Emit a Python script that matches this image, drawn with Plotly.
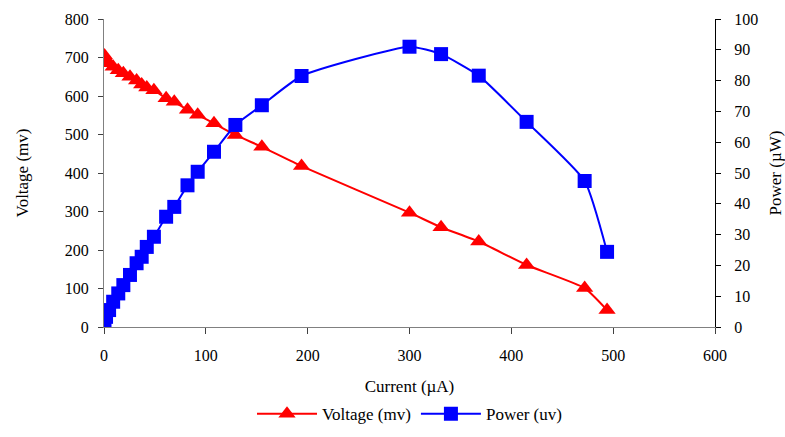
import plotly.graph_objects as go

# Data
current_ua = [0.5, 2, 5, 9, 14, 19, 25.5, 32, 37, 42, 49, 61, 69, 82, 92,
              108, 129, 155, 194, 300, 331, 368, 415, 472, 494]
voltage_mv = [705, 695, 685, 676, 667, 659, 650, 640, 630, 622, 615, 594, 585,
              564, 551, 529, 499, 468, 418, 297, 259, 222, 161, 101, 44]
power_uw = [0.5, 3.3, 5.5, 8.2, 10.9, 13.6, 16.9, 20.7, 22.8, 26, 29.3, 35.8,
            39, 46, 50.4, 56.9, 65.6, 72, 81.5, 91, 88.6, 81.6, 66.6, 47.4, 24.4]

x_ticks = [0, 100, 200, 300, 400, 500, 600]
v_ticks = [0, 100, 200, 300, 400, 500, 600, 700, 800]
p_ticks = [0, 10, 20, 30, 40, 50, 60, 70, 80, 90, 100]

FONT = "Liberation Serif"

fig = go.Figure()
fig.add_trace(go.Scatter(
    x=current_ua, y=voltage_mv, name="Voltage (mv)", mode="lines+markers",
    line=dict(color="#FF0000", width=2, shape="spline", smoothing=0.5),
    marker=dict(symbol="triangle-up", size=15, color="#FF0000"),
    yaxis="y"))
fig.add_trace(go.Scatter(
    x=current_ua, y=power_uw, name="Power (uv)", mode="lines+markers",
    line=dict(color="#0000FF", width=2, shape="spline", smoothing=0.5),
    marker=dict(symbol="square", size=14, color="#0000FF"),
    yaxis="y2"))

fig.update_layout(
    width=785, height=437,
    margin=dict(l=104, r=70, t=19, b=110, autoexpand=False),
    paper_bgcolor="white", plot_bgcolor="white",
    font=dict(family=FONT, size=16, color="black"),
    showlegend=True,
    legend=dict(orientation="h", x=0.5, xanchor="center",
                yref="container", y=0.052, yanchor="middle",
                font=dict(family=FONT, size=17),
                itemwidth=60, tracegroupgap=0),
    xaxis=dict(range=[0, 600], tickvals=x_ticks, showgrid=False,
               zeroline=False, showline=True, linecolor="#808080",
               linewidth=1, ticks="outside", ticklen=6, tickcolor="#404040",
               ticklabelstandoff=8,
               title=dict(text="Current (µA)", standoff=30,
                          font=dict(family=FONT, size=17)),
               automargin=False),
    yaxis=dict(range=[0, 800], tickvals=v_ticks, showgrid=False,
               zeroline=False, showline=True, linecolor="#808080",
               linewidth=1, ticks="outside", ticklen=5, tickcolor="#404040",
               ticklabelstandoff=6,
               title=dict(text="Voltage (mv)", standoff=31,
                          font=dict(family=FONT, size=17)),
               automargin=False),
    yaxis2=dict(range=[0, 100], tickvals=p_ticks, overlaying="y",
                side="right", showgrid=False, zeroline=False, showline=True,
                linecolor="black", linewidth=1, ticks="outside", ticklen=5,
                tickcolor="black", ticklabelstandoff=10,
                title=dict(text="Power (µW)", standoff=12,
                           font=dict(family=FONT, size=17)),
                automargin=False),
)

fig.write_html("out.html")
